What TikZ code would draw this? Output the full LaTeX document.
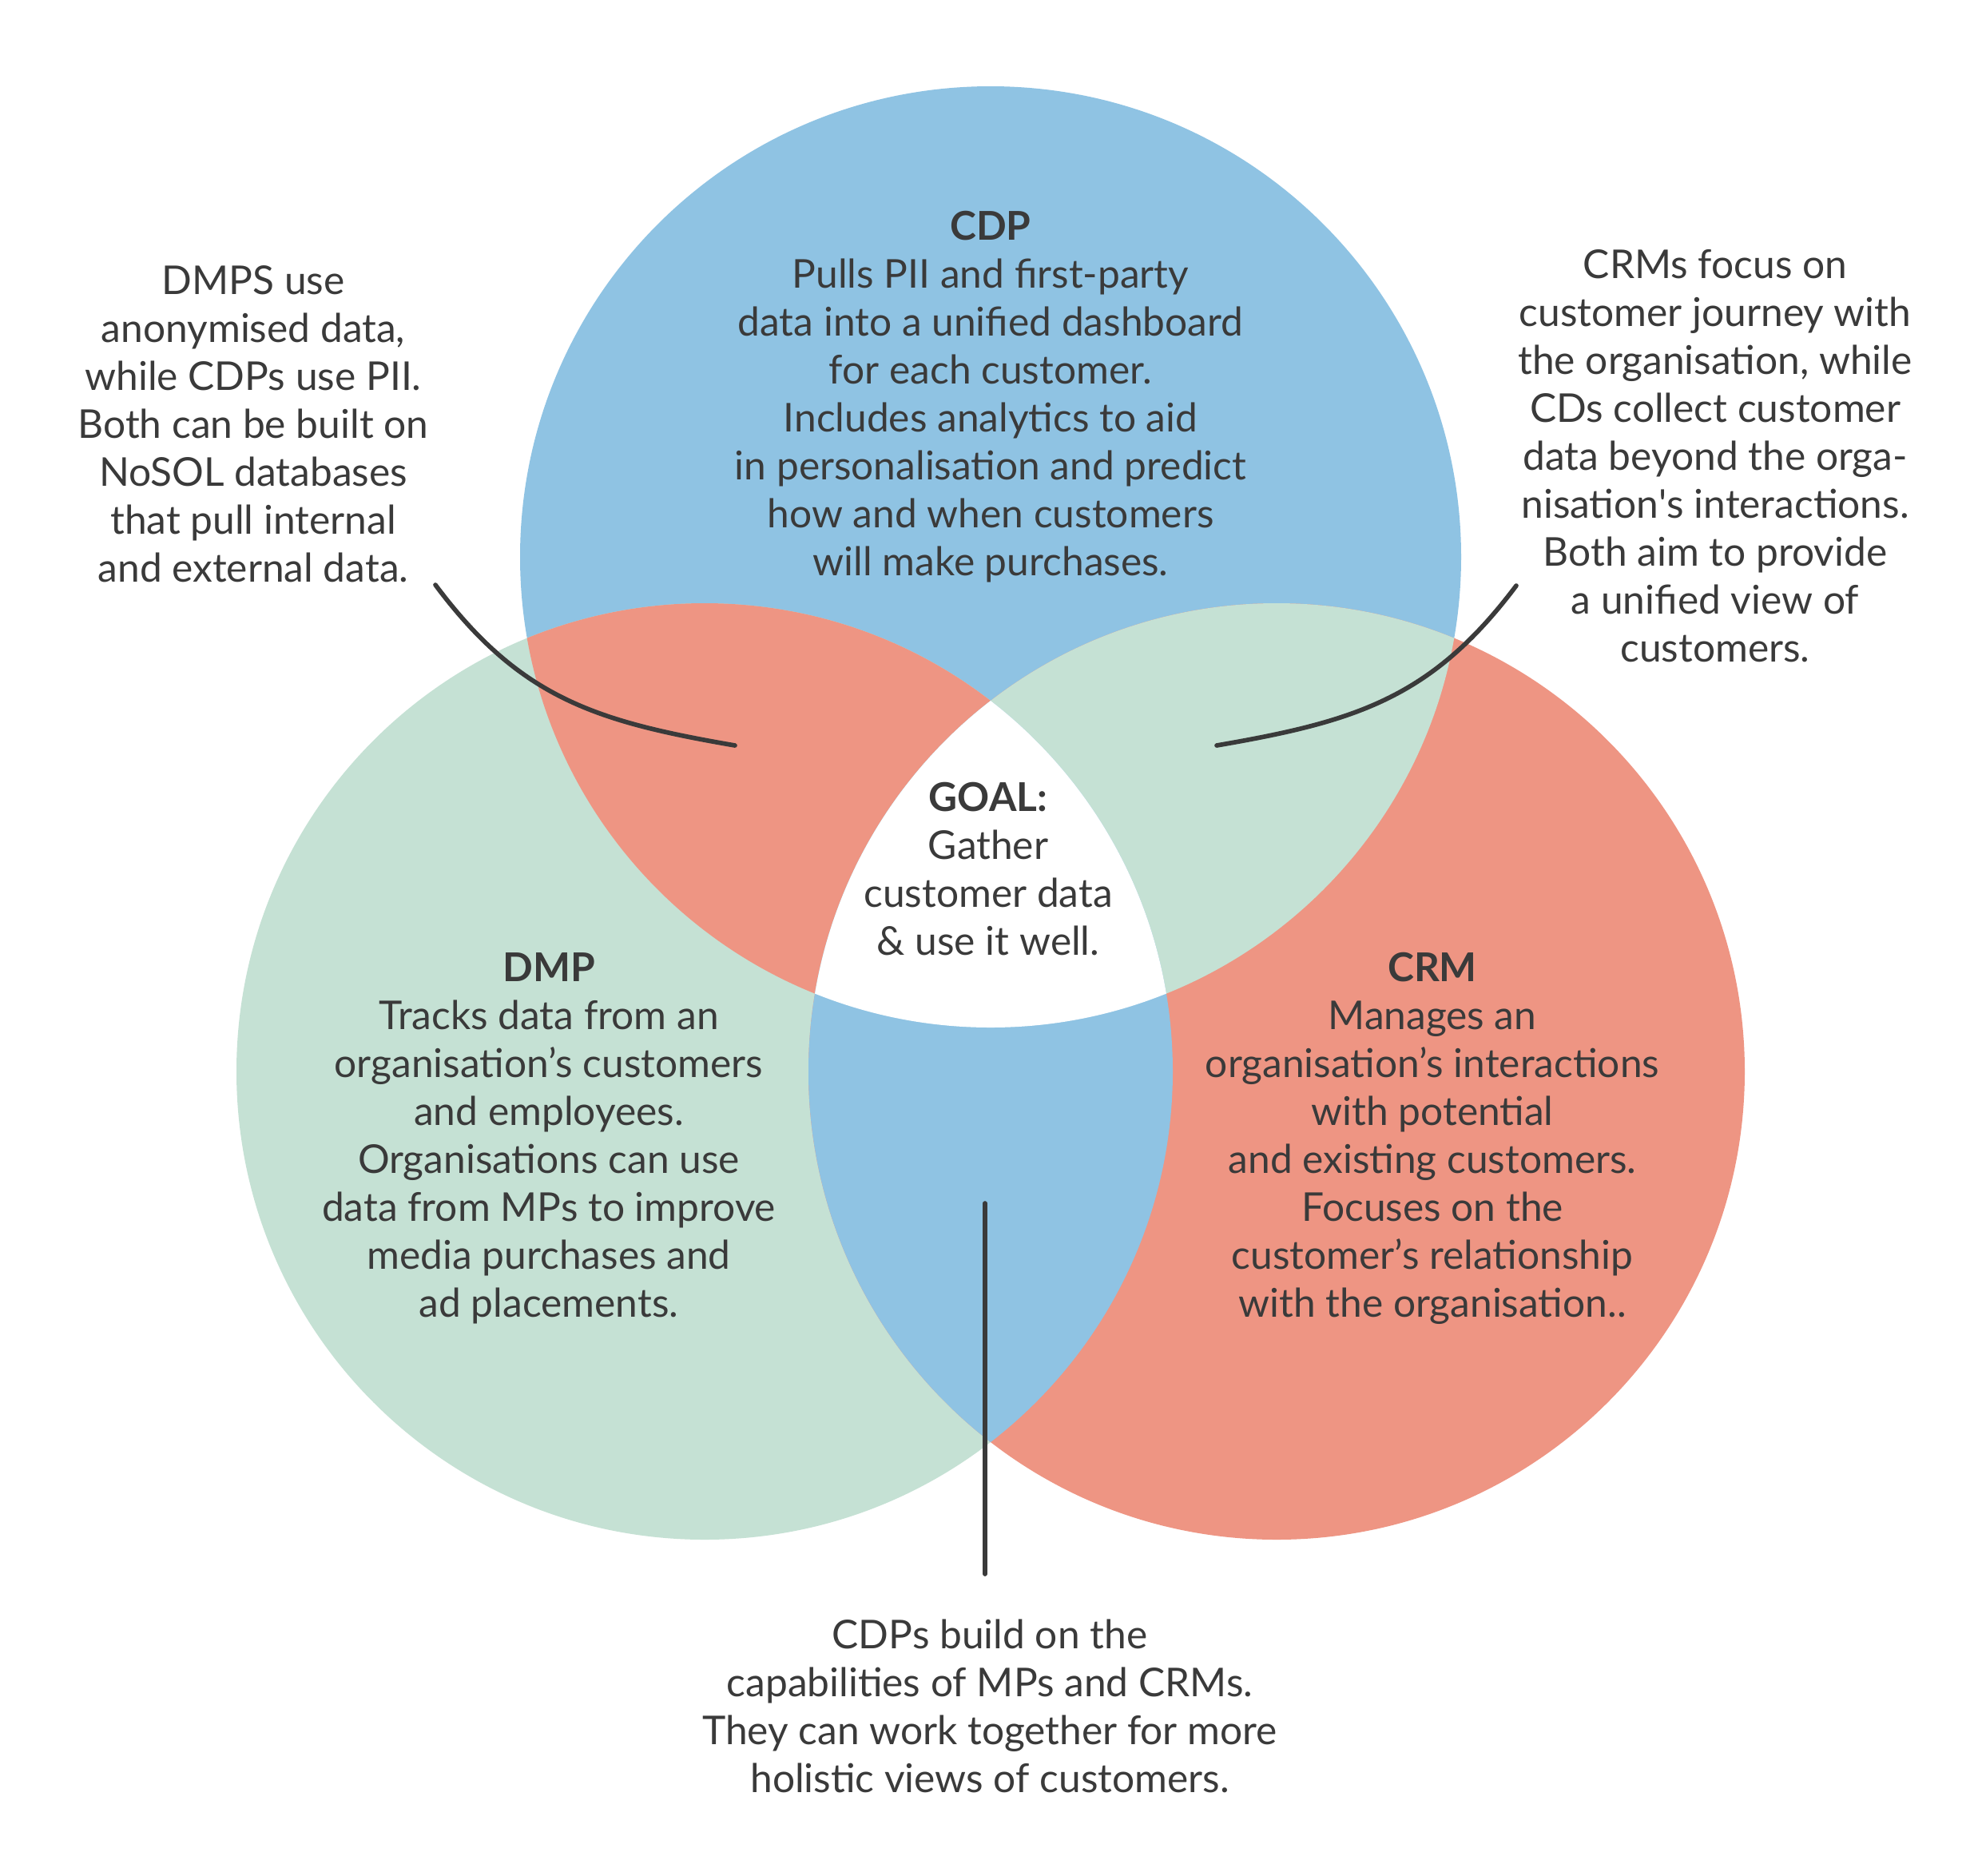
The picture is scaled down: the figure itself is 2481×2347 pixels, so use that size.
\documentclass[tikz,border=0pt]{standalone}
\usepackage{fontspec}
\setmainfont{Lato}
\definecolor{cdpblue}{HTML}{8FC3E3}
\definecolor{dmpgreen}{HTML}{C5E1D4}
\definecolor{crmred}{HTML}{EE9583}
\definecolor{ink}{HTML}{3A3A3A}
\begin{document}
\begin{tikzpicture}[x=0.3pt,y=-0.3pt,
  txt/.style={text=ink, align=center, inner sep=0pt, anchor=base,
    font=\fontsize{14.9}{18}\selectfont},
  lead/.style={draw=ink, line width=1.7pt, line cap=round}]
\useasboundingbox[fill=white] (0,0) rectangle (2481,2347);
% circles
\fill[cdpblue] (1240,697) circle[radius=589];
\fill[dmpgreen] (882,1341) circle[radius=586];
\fill[crmred] (1598,1341) circle[radius=586];
\begin{scope}
  \clip (1240,697) circle[radius=589];
  \fill[crmred] (882,1341) circle[radius=586];
  \fill[dmpgreen] (1598,1341) circle[radius=586];
\end{scope}
\begin{scope}
  \clip (882,1341) circle[radius=586];
  \clip (1598,1341) circle[radius=586];
  \fill[cdpblue] (0,0) rectangle (2481,2347);
  \clip (1240,697) circle[radius=589];
  \fill[white] (0,0) rectangle (2481,2347);
\end{scope}
% texts (anchor = baseline of the last line)
\node[txt] (lefttxt) at (317,728) {DMPS use\\anonymised data,\\while CDPs use PII.\\Both can be built on\\NoSOL databases\\that pull internal\\and external data.};
\node[txt] (cdptxt) at (1240,720) {\textbf{CDP}\\Pulls PII and first-party\\data into a unified dashboard\\for each customer.\\Includes analytics to aid\\in personalisation and predict\\how and when customers\\will make purchases.};
\node[txt] (righttxt) at (2147,828) {CRMs focus on\\customer journey with\\the organisation, while\\CDs collect customer\\data beyond the orga-\\nisation\textquotesingle s interactions.\\Both aim to provide\\a unified view of\\customers.};
\node[txt] (goaltxt) at (1237,1195) {\textbf{GOAL:}\\Gather\\customer data\\\& use it well.};
\node[txt] (dmptxt) at (687,1648) {\textbf{DMP}\\Tracks data from an\\organisation’s customers\\and employees.\\Organisations can use\\data from MPs to improve\\media purchases and\\ad placements.};
\node[txt] (crmtxt) at (1793,1648) {\textbf{CRM}\\Manages an\\organisation’s interactions\\with potential\\and existing customers.\\Focuses on the\\customer’s relationship\\with the organisation..};
\node[txt] (bottomtxt) at (1239,2243) {CDPs build on the\\capabilities of MPs and CRMs.\\They can work together for more\\holistic views of customers.};
% leaders
\coordinate (la) at (545,732);
\coordinate (lb) at (920,933);
\coordinate (ra) at (1898,733);
\coordinate (rb) at (1523,933);
\coordinate (va) at (1233,1506);
\coordinate (vb) at (1233,1970);
\draw[lead] (la) .. controls (651,874) and (746,903) .. (lb);
\draw[lead] (ra) .. controls (1792,874) and (1697,903) .. (rb);
\draw[lead] (va) -- (vb);
\end{tikzpicture}
\end{document}
